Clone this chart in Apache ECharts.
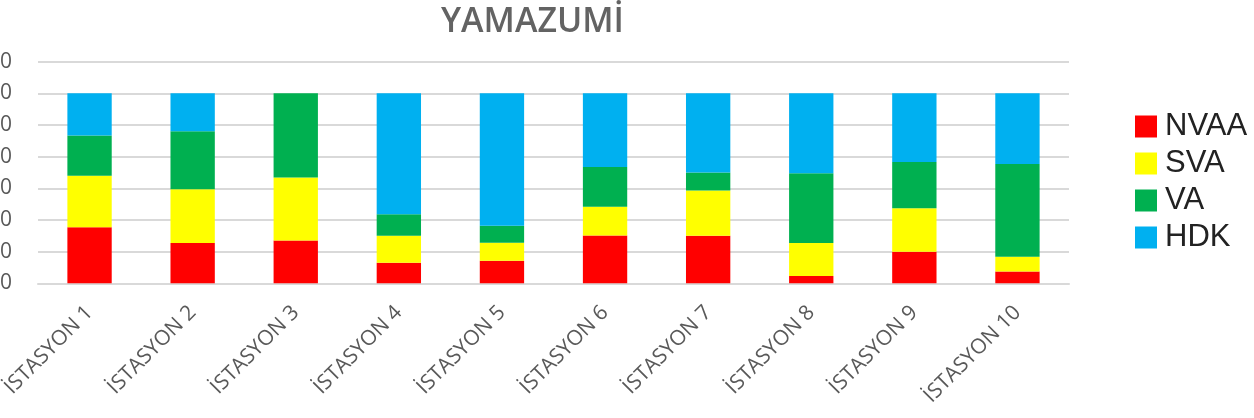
<!DOCTYPE html>
<html>
<head>
<meta charset="utf-8">
<script src="https://cdn.jsdelivr.net/npm/echarts@6/dist/echarts.min.js"></script>
<style>html,body{margin:0;padding:0;background:#fff}#c{width:1254px;height:418px}</style>
</head>
<body>
<div id="c"></div>
<script>
const categories = ['İSTASYON 1','İSTASYON 2','İSTASYON 3','İSTASYON 4','İSTASYON 5','İSTASYON 6','İSTASYON 7','İSTASYON 8','İSTASYON 9','İSTASYON 10'];
const NVAA = [17.7, 12.7, 13.5, 6.5, 7.1, 15.1, 15.0, 2.3, 10.0, 3.7];
const SVA  = [16.3, 17.0, 19.9, 8.5, 5.7, 9.1, 14.3, 10.4, 13.7, 4.7];
const VA   = [12.7, 18.3, 26.6, 6.8, 5.4, 12.5, 5.7, 22.1, 14.6, 29.3];
const HDK  = [13.3, 12.0, 0, 38.2, 41.8, 23.3, 25.0, 25.2, 21.7, 22.3];
const seriesNames = ['NVAA','SVA','VA','HDK'];
const colors = ['#ff0000','#ffff00','#00b050','#00b0f0'];
const yMin = 0, yMax = 70, yInterval = 10;

const chart = echarts.init(document.getElementById('c'));
const dataSets = [NVAA, SVA, VA, HDK];
chart.setOption({
  animation: false,
  title: {
    text: 'YAMAZUMİ',
    left: 436, top: 0,
    textStyle: { fontFamily: 'Open Sans', fontSize: 34, fontWeight: 600, color: '#636363' }
  },
  legend: {
    orient: 'vertical',
    left: 1130, top: 106,
    itemWidth: 22, itemHeight: 22, itemGap: 6,
    icon: 'rect',
    textStyle: { fontFamily: 'Liberation Sans', fontSize: 31, color: '#222', padding: [0, 0, 0, 3] },
    data: seriesNames
  },
  grid: { left: 38, right: 185, top: 61.7, bottom: 134.7, containLabel: false, outerBoundsMode: 'none' },
  xAxis: {
    type: 'category',
    data: categories,
    axisLine: { show: true, lineStyle: { color: '#d9d9d9', width: 2 } },
    axisTick: { show: false },
    axisLabel: { rotate: 45, margin: 26, fontFamily: 'Open Sans', fontSize: 21, color: '#595959', interval: 0 }
  },
  yAxis: {
    type: 'value',
    min: yMin, max: yMax, interval: yInterval,
    axisLine: { show: false },
    axisTick: { show: false },
    splitLine: { lineStyle: { color: '#d9d9d9', width: 2 } },
    axisLabel: { margin: 26, fontFamily: 'Open Sans', fontSize: 21, color: '#595959' }
  },
  series: seriesNames.map((n, i) => ({
    name: n, type: 'bar', stack: 'total',
    data: dataSets[i],
    barWidth: '43%',
    itemStyle: { color: colors[i] }
  }))
});
</script>
</body>
</html>
